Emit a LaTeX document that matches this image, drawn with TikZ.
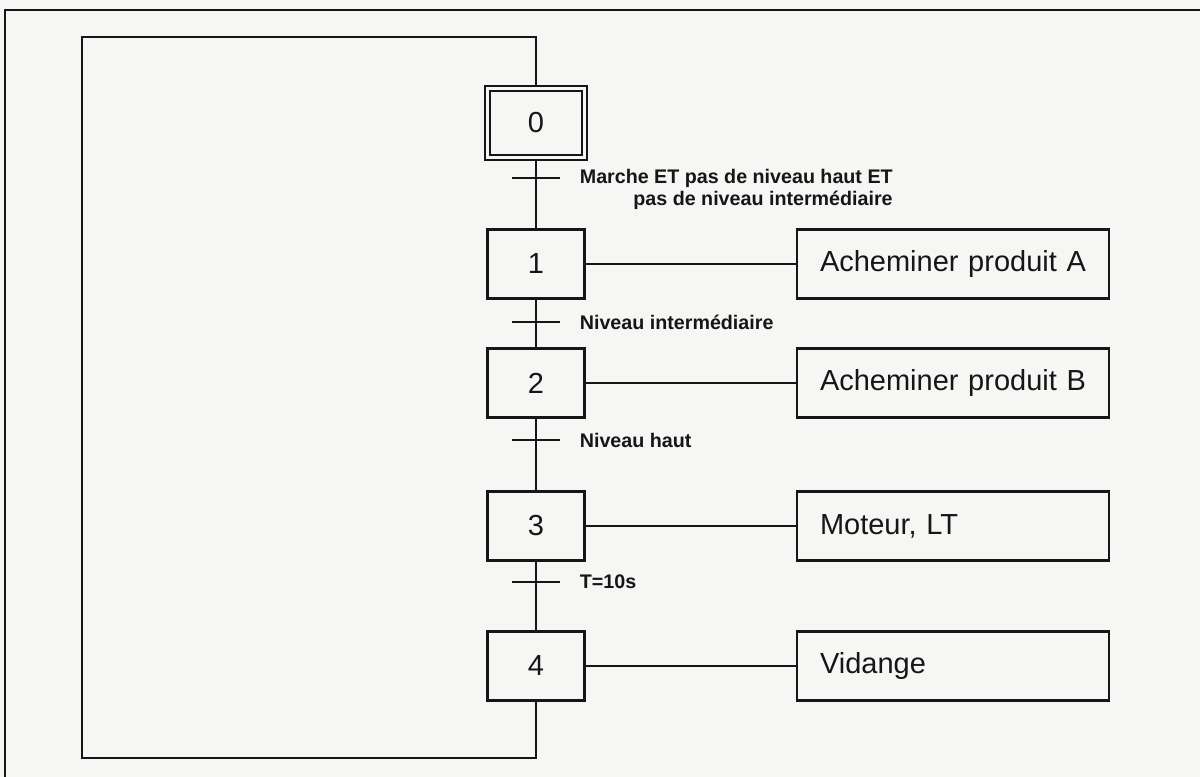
\documentclass[tikz,border=0pt]{standalone}
\usepackage{fontspec}
\setmainfont{Liberation Sans}
\usetikzlibrary{calc,positioning}
\definecolor{Paper}{HTML}{F6F6F4}
\definecolor{Ink}{HTML}{161616}

\begin{document}
\begin{tikzpicture}[every node/.style={text=Ink},line width=1.25pt,draw=Ink,
  stepbox/.style={draw=Ink,line width=1.25pt,minimum width=1.94cm,minimum height=1.38cm,inner sep=0pt,font=\fontsize{16.5}{19}\selectfont},
  initstep/.style={stepbox,double=Paper,double distance=1.8pt,line width=1.2pt},
  actionbox/.style={draw=Ink,line width=1.25pt,minimum height=1.38cm,text width=5.32cm,inner xsep=0.46cm,inner ysep=0pt,align=left,font=\fontsize{16.5}{20}\selectfont},
  condlabel/.style={font=\fontsize{11.2}{13}\selectfont\bfseries,inner sep=1pt}]
\fill[Paper] (0,0) rectangle (24,15.54);
\useasboundingbox (0,0) rectangle (24,15.54);

% open frame of the page
\draw[line width=1.4pt] (0.1,0) -- (0.1,15.34) -- (24,15.34);

% steps
\node[initstep] (s0) at (10.72,13.08) {0};
\node[stepbox] (s1) at (10.72,10.26) {1};
\node[stepbox] (s2) at (10.72,7.88) {2};
\node[stepbox] (s3) at (10.72,5.02) {3};
\node[stepbox] (s4) at (10.72,2.22) {4};

% actions
\node[actionbox] (a1) at (19.06,10.26) {Acheminer produit A};
\node[actionbox] (a2) at (19.06,7.88) {Acheminer produit B};
\node[actionbox] (a3) at (19.06,5.02) {Moteur, LT};
\node[actionbox] (a4) at (19.06,2.22) {Vidange};
\foreach \i in {1,...,4} \draw (s\i.east) -- (a\i.west);

% links and transitions
\draw (s0) -- (s1); \draw (s1) -- (s2); \draw (s2) -- (s3); \draw (s3) -- (s4);
\coordinate (t0) at (10.72,11.98); \coordinate (t1) at (10.72,9.1); \coordinate (t2) at (10.72,6.74); \coordinate (t3) at (10.72,3.9);
\foreach \t in {t0,t1,t2,t3} \draw ([xshift=-0.48cm]\t) -- ([xshift=0.48cm]\t);
\node[condlabel,anchor=west] (c0) at ($(t0)+(0.82,0)$) {Marche ET pas de niveau haut ET};
\node[condlabel,anchor=east] (c0b) at ($(c0.east)+(0,-0.44)$) {pas de niveau intermédiaire};
\node[condlabel,anchor=west] (c1) at ($(t1)+(0.82,0)$) {Niveau intermédiaire};
\node[condlabel,anchor=west] (c2) at ($(t2)+(0.82,0)$) {Niveau haut};
\node[condlabel,anchor=west] (c3) at ($(t3)+(0.82,0)$) {T=10s};

% return loop 4 -> 0
\coordinate (lb) at (1.64,0.38); \coordinate (lt) at (1.64,14.8);
\draw (s4.south) |- (lb) -- (lt) -| (s0.north);

\end{tikzpicture}
\end{document}
